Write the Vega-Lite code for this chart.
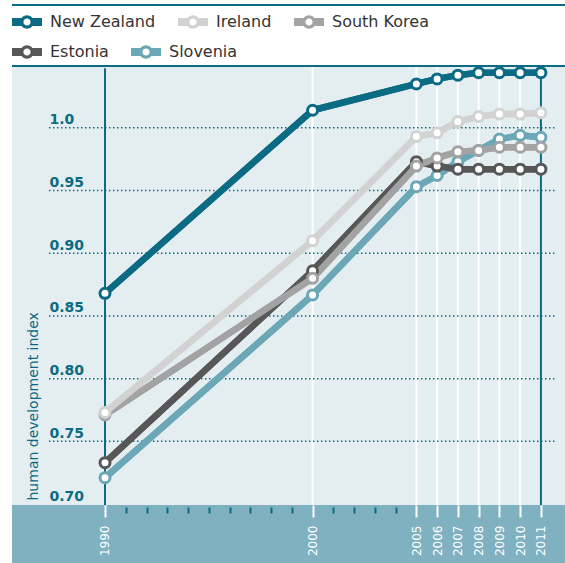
{
  "$schema": "https://vega.github.io/schema/vega-lite/v6.json",
  "width": 553,
  "height": 497,
  "autosize": "none",
  "padding": {"left": 12, "top": 66, "right": 0, "bottom": 0},
  "background": "white",
  "config": {"view": {"stroke": null, "fill": "#7fb1c1"}},
  "data": {"values": [
    {"country": "Slovenia", "year": 1990, "hdi": 0.721},
    {"country": "Slovenia", "year": 2000, "hdi": 0.8667},
    {"country": "Slovenia", "year": 2005, "hdi": 0.953},
    {"country": "Slovenia", "year": 2006, "hdi": 0.962},
    {"country": "Slovenia", "year": 2007, "hdi": 0.973},
    {"country": "Slovenia", "year": 2008, "hdi": 0.982},
    {"country": "Slovenia", "year": 2009, "hdi": 0.991},
    {"country": "Slovenia", "year": 2010, "hdi": 0.994},
    {"country": "Slovenia", "year": 2011, "hdi": 0.9925},
    {"country": "Estonia", "year": 1990, "hdi": 0.733},
    {"country": "Estonia", "year": 2000, "hdi": 0.886},
    {"country": "Estonia", "year": 2005, "hdi": 0.973},
    {"country": "Estonia", "year": 2006, "hdi": 0.9695},
    {"country": "Estonia", "year": 2007, "hdi": 0.967},
    {"country": "Estonia", "year": 2008, "hdi": 0.967},
    {"country": "Estonia", "year": 2009, "hdi": 0.967},
    {"country": "Estonia", "year": 2010, "hdi": 0.967},
    {"country": "Estonia", "year": 2011, "hdi": 0.967},
    {"country": "South Korea", "year": 1990, "hdi": 0.771},
    {"country": "South Korea", "year": 2000, "hdi": 0.880},
    {"country": "South Korea", "year": 2005, "hdi": 0.9695},
    {"country": "South Korea", "year": 2006, "hdi": 0.976},
    {"country": "South Korea", "year": 2007, "hdi": 0.981},
    {"country": "South Korea", "year": 2008, "hdi": 0.982},
    {"country": "South Korea", "year": 2009, "hdi": 0.9845},
    {"country": "South Korea", "year": 2010, "hdi": 0.9845},
    {"country": "South Korea", "year": 2011, "hdi": 0.9845},
    {"country": "Ireland", "year": 1990, "hdi": 0.773},
    {"country": "Ireland", "year": 2000, "hdi": 0.910},
    {"country": "Ireland", "year": 2005, "hdi": 0.993},
    {"country": "Ireland", "year": 2006, "hdi": 0.996},
    {"country": "Ireland", "year": 2007, "hdi": 1.005},
    {"country": "Ireland", "year": 2008, "hdi": 1.009},
    {"country": "Ireland", "year": 2009, "hdi": 1.011},
    {"country": "Ireland", "year": 2010, "hdi": 1.011},
    {"country": "Ireland", "year": 2011, "hdi": 1.012},
    {"country": "New Zealand", "year": 1990, "hdi": 0.868},
    {"country": "New Zealand", "year": 2000, "hdi": 1.014},
    {"country": "New Zealand", "year": 2005, "hdi": 1.035},
    {"country": "New Zealand", "year": 2006, "hdi": 1.039},
    {"country": "New Zealand", "year": 2007, "hdi": 1.042},
    {"country": "New Zealand", "year": 2008, "hdi": 1.044},
    {"country": "New Zealand", "year": 2009, "hdi": 1.044},
    {"country": "New Zealand", "year": 2010, "hdi": 1.044},
    {"country": "New Zealand", "year": 2011, "hdi": 1.044}
  ]},
  "resolve": {"axis": {"x": "independent", "y": "independent"}},
  "layer": [
    {
      "data": {"values": [{"x0": 1985.52, "x1": 2012.16, "y0": 0.6992, "y1": 1.0493}]},
      "mark": {"type": "rect", "color": "#e4eef1"},
      "encoding": {
        "x": {"field": "x0", "type": "quantitative", "axis": null, "scale": {"domain": [1985.52, 2012.16], "nice": false, "zero": false}},
        "x2": {"field": "x1"},
        "y": {"field": "y0", "type": "quantitative", "axis": null, "scale": {"domain": [0.653, 1.0493], "nice": false, "zero": false}},
        "y2": {"field": "y1"}
      }
    },
    {
      "data": {"values": [{"year": 2000}, {"year": 2005}, {"year": 2006}, {"year": 2007}, {"year": 2008}, {"year": 2009}, {"year": 2010}]},
      "mark": {"type": "rule", "color": "white", "strokeWidth": 2},
      "encoding": {
        "x": {"field": "year", "type": "quantitative", "axis": null},
        "y": {"datum": 0.6992, "axis": null},
        "y2": {"datum": 1.0493}
      }
    },
    {
      "data": {"values": [{"year": 1990}, {"year": 2011}]},
      "mark": {"type": "rule", "color": "#0b6b84", "strokeWidth": 2},
      "encoding": {
        "x": {"field": "year", "type": "quantitative", "axis": null},
        "y": {"datum": 0.6992, "axis": null},
        "y2": {"datum": 1.0475}
      }
    },
    {
      "data": {"values": [{"v": 0.75}, {"v": 0.8}, {"v": 0.85}, {"v": 0.9}, {"v": 0.95}, {"v": 1.0}]},
      "mark": {"type": "rule", "color": "#0b6b84", "strokeWidth": 1.5, "strokeDash": [1.5, 2.5]},
      "encoding": {
        "y": {"field": "v", "type": "quantitative", "axis": null},
        "x": {"datum": 1987.3, "axis": null},
        "x2": {"datum": 2011.77}
      }
    },
    {
      "data": {"values": [{"v": 1.0493}, {"v": 1.0979}]},
      "mark": {"type": "rule", "color": "#0b6b84", "strokeWidth": 2},
      "encoding": {
        "y": {"field": "v", "type": "quantitative", "axis": null}
      }
    },
    {
      "mark": {"type": "line", "strokeWidth": 6.5, "strokeJoin": "round"},
      "encoding": {
        "x": {"field": "year", "type": "quantitative", "axis": null},
        "y": {"field": "hdi", "type": "quantitative", "axis": null},
        "stroke": {"field": "country", "type": "nominal",
          "scale": {"domain": ["Estonia", "Slovenia", "New Zealand", "Ireland", "South Korea"],
                    "range": ["#575757", "#6ba7b6", "#0b6b84", "#d2d2d2", "#a3a3a3"]},
          "legend": {"orient": "none", "legendX": 0, "legendY": -29, "direction": "horizontal",
            "values": ["Estonia", "Slovenia"],
            "title": null, "padding": 0, "offset": 0,
            "symbolType": "M-1,-0.26L-0.357,-0.26A0.44,0.44 0 0 1 0.357,-0.26L1,-0.26L1,0.26L0.357,0.26A0.44,0.44 0 0 1 -0.357,0.26L-1,0.26ZM0.24,0A0.24,0.24 0 0 0 -0.24,0A0.24,0.24 0 0 0 0.24,0Z",
            "symbolSize": 900, "symbolStrokeWidth": 0,
            "labelFont": "DejaVu Sans", "labelFontSize": 16, "labelColor": "#333333", "labelOffset": 8,
            "columnPadding": 22,
            "encode": {"symbols": {"update": {"fill": {"scale": "stroke", "field": "value"}, "opacity": {"value": 1}, "strokeWidth": {"value": 0}}}}}}
      }
    },
    {
      "mark": {"type": "line", "strokeWidth": 6.5, "strokeJoin": "round"},
      "encoding": {
        "x": {"field": "year", "type": "quantitative",
          "axis": {"orient": "bottom", "offset": -58, "values": [1990, 2000, 2005, 2006, 2007, 2008, 2009, 2010, 2011], "format": "d",
            "labelAngle": -90, "labelColor": "white", "labelFont": "DejaVu Sans", "labelFontSize": 12, "labelPadding": 8,
            "tickColor": "white", "tickWidth": 2, "tickSize": 12, "domain": false, "grid": false, "title": null,
            "labelFlush": false, "labelOverlap": false, "zindex": 1}},
        "y": {"field": "hdi", "type": "quantitative",
          "axis": {"orient": "left", "offset": -37, "values": [0.7, 0.75, 0.8, 0.85, 0.9, 0.95, 1.0], "zindex": 1,
            "labelExpr": "datum.value == 1 ? '1.0' : format(datum.value, '.2f')",
            "labelAlign": "left", "labelBaseline": "alphabetic", "labelOffset": -4, "labelPadding": 0,
            "ticks": false, "tickSize": 0, "domain": false, "grid": false, "labelFlush": false, "labelOverlap": false,
            "labelFont": "DejaVu Sans", "labelFontWeight": "bold", "labelFontSize": 14, "labelColor": "#0b6b84",
            "title": "human development index", "titleFont": "DejaVu Sans", "titleFontWeight": "normal", "titleFontSize": 14,
            "titleColor": "#0b6b84", "titleAngle": -90, "titleAlign": "left", "titleBaseline": "alphabetic",
            "titleX": -12, "titleY": 434}},
        "color": {"field": "country", "type": "nominal",
          "scale": {"domain": ["New Zealand", "Ireland", "South Korea", "Estonia", "Slovenia"],
                    "range": ["#0b6b84", "#d2d2d2", "#a3a3a3", "#575757", "#6ba7b6"]},
          "legend": {"orient": "none", "legendX": 0, "legendY": -59, "direction": "horizontal",
            "values": ["New Zealand", "Ireland", "South Korea"],
            "title": null, "padding": 0, "offset": 0,
            "symbolType": "M-1,-0.26L-0.357,-0.26A0.44,0.44 0 0 1 0.357,-0.26L1,-0.26L1,0.26L0.357,0.26A0.44,0.44 0 0 1 -0.357,0.26L-1,0.26ZM0.24,0A0.24,0.24 0 0 0 -0.24,0A0.24,0.24 0 0 0 0.24,0Z",
            "symbolSize": 900, "symbolStrokeWidth": 0,
            "labelFont": "DejaVu Sans", "labelFontSize": 16, "labelColor": "#333333", "labelOffset": 8,
            "columnPadding": 22,
            "encode": {"symbols": {"update": {"fill": {"scale": "color", "field": "value"}, "opacity": {"value": 1}, "strokeWidth": {"value": 0}}}}}}
      }
    },
    {
      "mark": {"type": "point", "filled": false, "fill": "white", "size": 100, "strokeWidth": 3, "opacity": 1},
      "encoding": {
        "x": {"field": "year", "type": "quantitative",
          "axis": {"orient": "bottom", "offset": -56, "values": [1991, 1992, 1993, 1994, 1995, 1996, 1997, 1998, 1999, 2001, 2002, 2003, 2004],
            "labels": false, "tickColor": "#0b6b84", "tickWidth": 2, "tickSize": 6, "domain": false, "grid": false, "title": null, "zindex": 1}},
        "y": {"field": "hdi", "type": "quantitative", "axis": null},
        "color": {"field": "country", "type": "nominal"}
      }
    }
  ]
}
